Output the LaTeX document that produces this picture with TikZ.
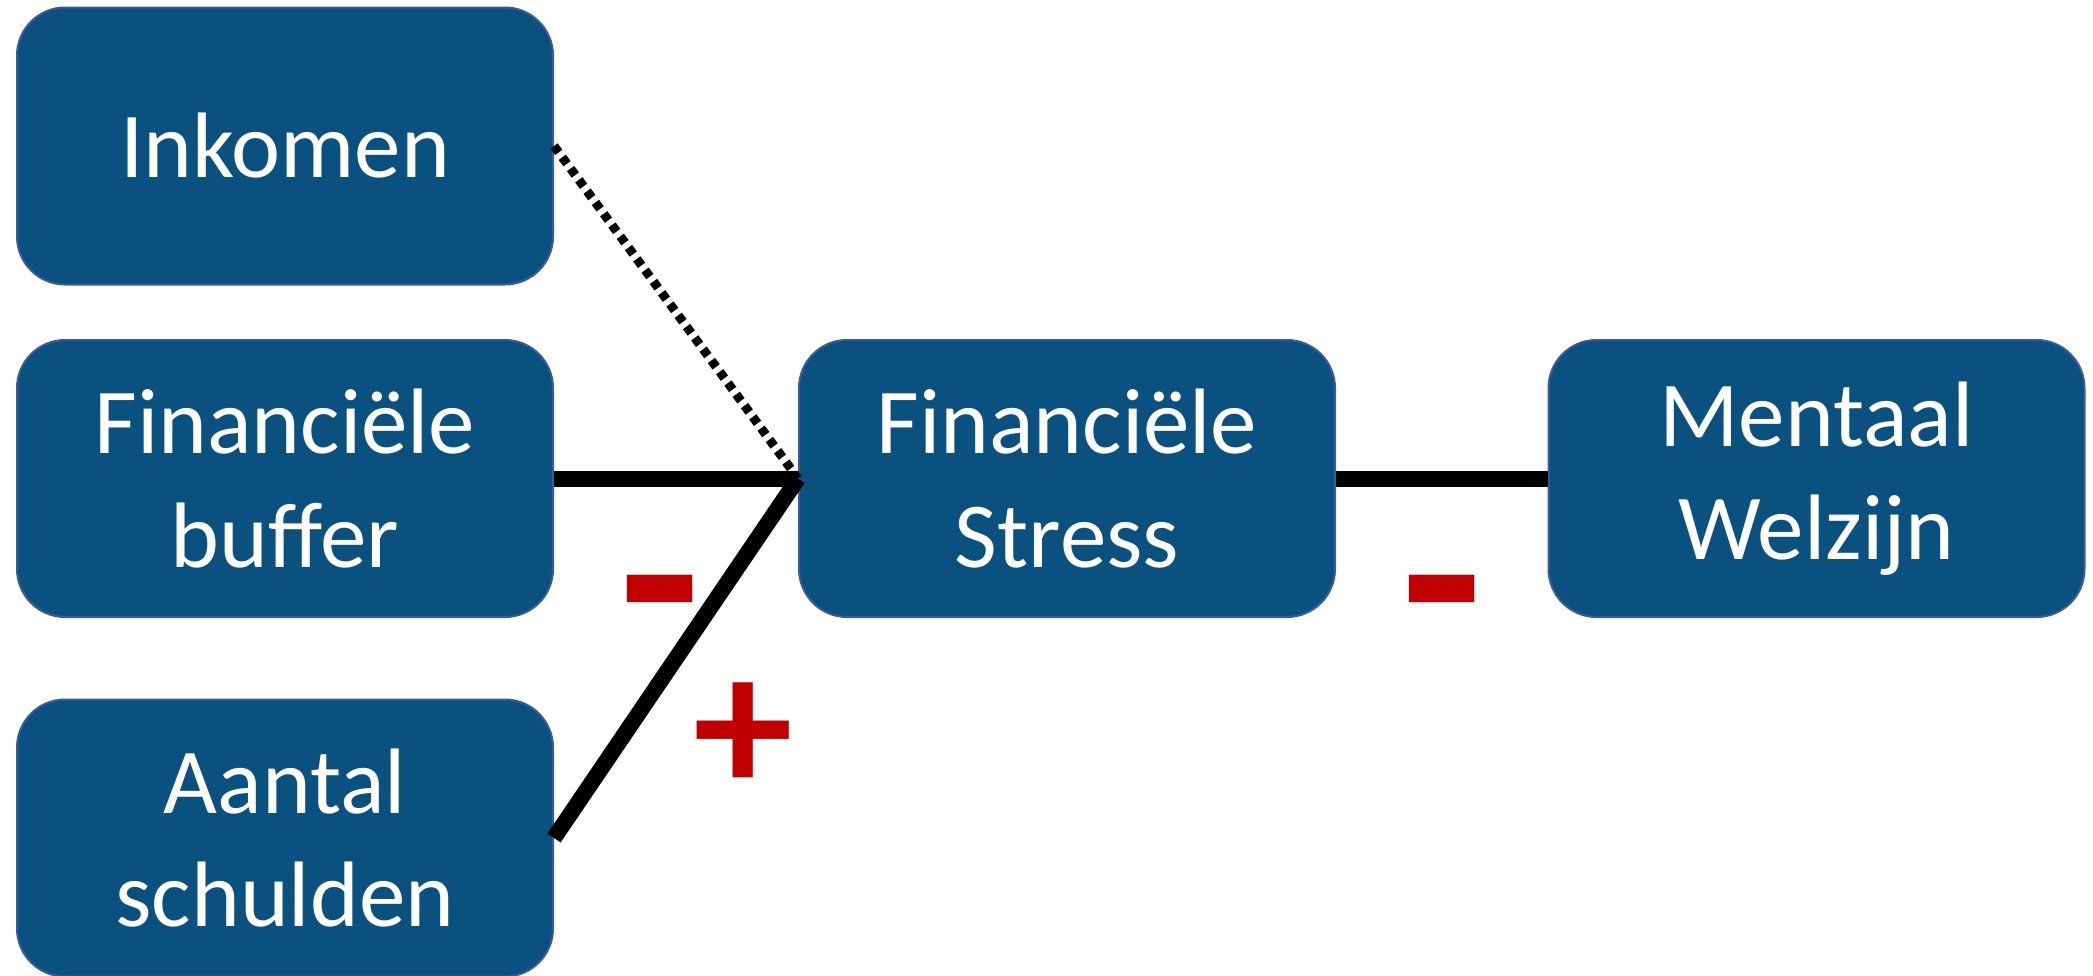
\documentclass[tikz,border=0pt]{standalone}
\usepackage{fontspec}
\setmainfont{Carlito}
\definecolor{boxfill}{HTML}{0A5180}
\definecolor{boxline}{HTML}{3A5A98}
\definecolor{signred}{HTML}{C00000}
\begin{document}
\begin{tikzpicture}[x=1pt,y=-1pt,
  box/.style={rectangle, rounded corners=48pt, fill=boxfill, draw=boxline, line width=2pt,
    minimum width=536pt, minimum height=277pt, inner sep=0pt, align=center, text=white,
    font=\fontsize{93}{113.5}\selectfont},
  link/.style={line width=16pt, black},
  dotlink/.style={line width=9pt, black, dash pattern=on 8pt off 6pt},
  minus/.style={text=signred, inner sep=0pt, anchor=base, font=\bfseries\fontsize{265}{265}\selectfont},
  plus/.style={text=signred, inner sep=0pt, anchor=base, font=\bfseries\fontsize{200}{200}\selectfont}
]
\useasboundingbox (0,0) rectangle (2093,975);
\node[box] (inkomen) at (285,146) {Inkomen};
\node[box] (buffer) at (285,478.5) {Financiële\\buffer};
\node[box] (aantal) at (285,838) {Aantal\\schulden};
\node[box] (stress) at (1067,478.5) {Financiële\\Stress};
\node[box] (mentaal) at (1816.5,478.5) {Mentaal\\Welzijn};
\draw[link] (buffer.east) -- (stress.west);
\draw[link] (aantal.east) -- (stress.west);
\draw[dotlink] (inkomen.east) -- (stress.west);
\draw[link] (stress.east) -- (mentaal.west);
\node[minus] (m1) at (660,664) {-};
\node[plus] (p1) at (743,793) {+};
\node[minus] (m2) at (1442,664) {-};
\end{tikzpicture}
\end{document}
